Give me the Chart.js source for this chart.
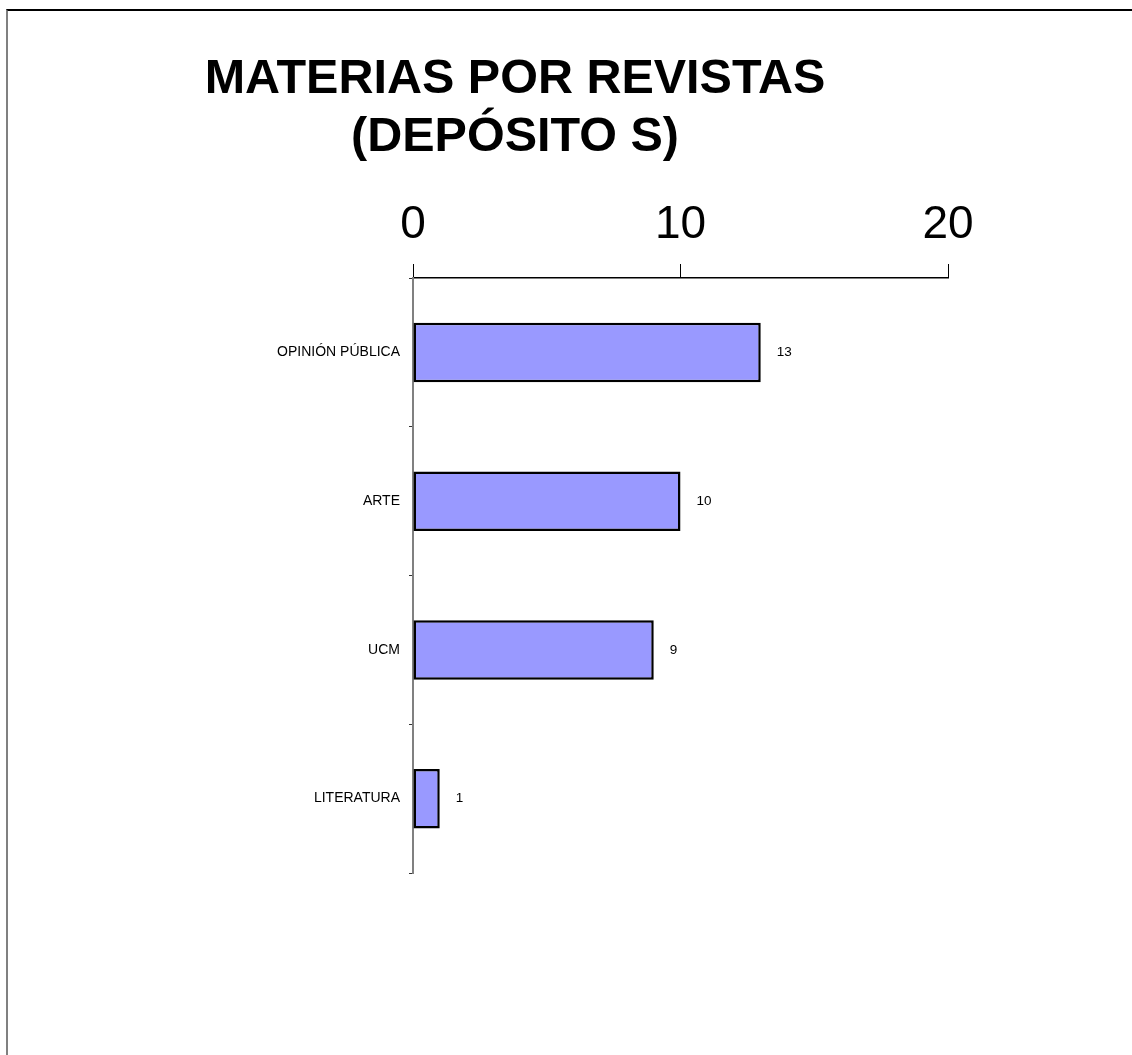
<!DOCTYPE html>
<html>
<head>
<meta charset="utf-8">
<script src="https://cdn.jsdelivr.net/npm/chart.js@4/dist/chart.umd.min.js"></script>
<style>
    html, body { margin: 0; padding: 0; background: #fff; }
    #wrap { position: relative; width: 1132px; height: 1055px; }
    #frame {
        position: absolute; left: 6px; top: 9px; right: 0; bottom: 0;
        border-top: 2px solid #000; border-left: 2px solid #808080;
    }
    #chart { position: absolute; left: 0; top: 0; }
</style>
</head>
<body>
<div id="wrap">
    <div id="frame"></div>
    <canvas id="chart" width="1132" height="1055"></canvas>
</div>
<script>
const titleLines = ['MATERIAS POR REVISTAS', '(DEPÓSITO S)'];
const categories = ['OPINIÓN PÚBLICA', 'ARTE', 'UCM', 'LITERATURA'];
const values = [13, 10, 9, 1];
const xMin = 0;
const xMax = 20;
const xStep = 10;

const font = 'Arial, "Liberation Sans", sans-serif';

// title drawn centred over the plot, like the original sheet
const titlePlugin = {
    id: 'sheetTitle',
    afterDraw(chart) {
        const ctx = chart.ctx;
        ctx.save();
        ctx.fillStyle = '#000';
        ctx.font = 'bold 48.5px ' + font;
        ctx.textAlign = 'center';
        ctx.textBaseline = 'alphabetic';
        ctx.fillText(titleLines[0], 515, 93);
        ctx.fillText(titleLines[1], 515, 151);
        ctx.restore();
    }
};

// value next to each bar
const valueLabels = {
    id: 'valueLabels',
    afterDatasetsDraw(chart) {
        const ctx = chart.ctx;
        const meta = chart.getDatasetMeta(0);
        ctx.save();
        ctx.fillStyle = '#000';
        ctx.font = '13.5px ' + font;
        ctx.textAlign = 'left';
        ctx.textBaseline = 'middle';
        meta.data.forEach((bar, i) => {
            ctx.fillText(String(values[i]), bar.x + 16, bar.y);
        });
        ctx.restore();
    }
};

const ctx = document.getElementById('chart');

new Chart(ctx, {
    type: 'bar',
    data: {
        labels: categories,
        datasets: [{
            data: values,
            backgroundColor: '#9999ff',
            borderColor: '#000',
            borderWidth: 2.5,
            borderSkipped: false,
            barPercentage: 0.4,
            categoryPercentage: 1.0
        }]
    },
    options: {
        indexAxis: 'y',
        responsive: false,
        animation: false,
        layout: {
            padding: {top: 178, left: 0, right: 184, bottom: 182}
        },
        plugins: {
            legend: {display: false},
            title: {display: false},
            tooltip: {enabled: false}
        },
        scales: {
            x: {
                position: 'top',
                min: xMin,
                max: xMax,
                ticks: {
                    stepSize: xStep,
                    color: '#000',
                    font: {family: font, size: 46},
                    padding: 11,
                    maxRotation: 0
                },
                grid: {
                    drawOnChartArea: false,
                    drawTicks: true,
                    tickLength: 14,
                    color: '#000',
                    lineWidth: 1
                },
                border: {display: true, color: '#000', width: 1.5},
                afterFit(scale) {
                    scale.height = 100;
                }
            },
            y: {
                ticks: {
                    color: '#000',
                    font: {family: font, size: 14},
                    padding: 9
                },
                grid: {
                    offset: true,
                    drawOnChartArea: false,
                    drawTicks: true,
                    tickLength: 4,
                    color: '#333',
                    lineWidth: 1
                },
                border: {display: true, color: '#808080', width: 2},
                afterFit(scale) {
                    scale.width = 413;
                }
            }
        }
    },
    plugins: [titlePlugin, valueLabels]
});
</script>
</body>
</html>
